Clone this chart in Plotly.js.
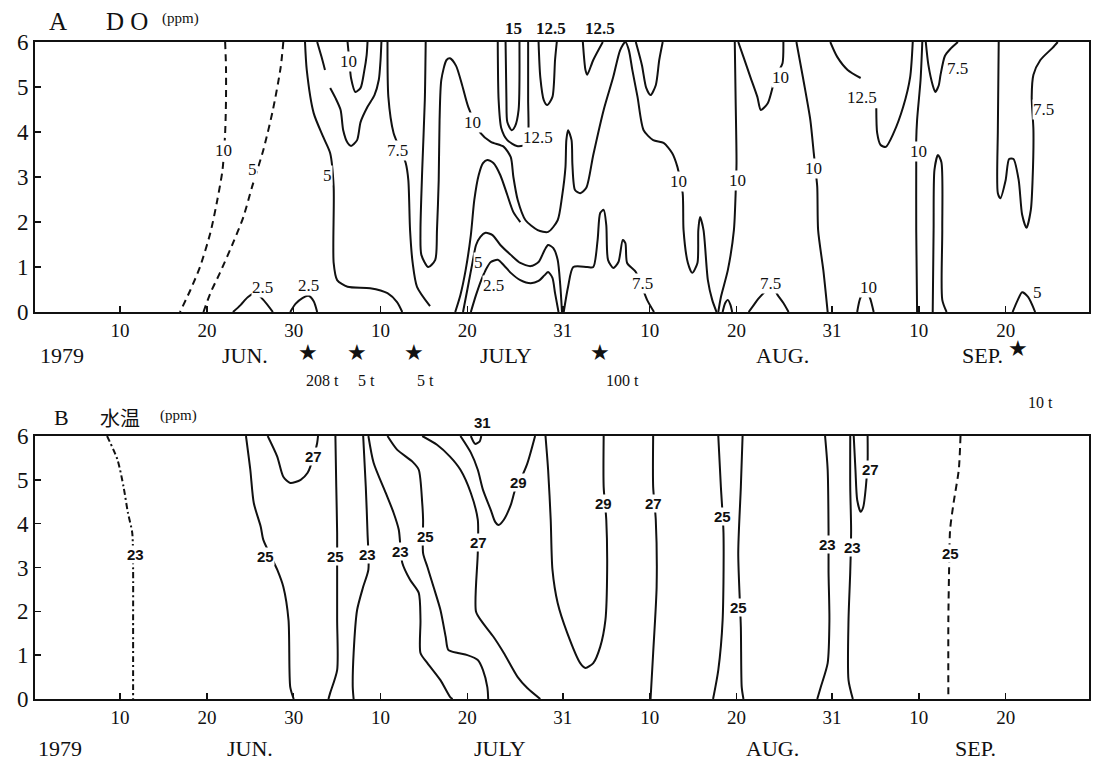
<!DOCTYPE html>
<html><head><meta charset="utf-8">
<script src="https://cdn.plot.ly/plotly-3.0.1.min.js"></script>
<style>body{margin:0;background:#fff}#g{width:1093px;height:767px}</style>
</head><body><div id="g"></div>
<script>
// ---------- axis ticks (days counted from May 31, 1979) ----------
const tickDays = [10,20,30,40,50,61,71,81,92,102,112];
const tickText = ["10","20","30","10","20","31","10","20","31","10","20"];
const depthTicks = [0,1,2,3,4,5,6];

// ---------- Panel A: DO (ppm) contour lines, x = day, y = depth ----------
const a01_day=[22.1,22.2,22.2,22.1,21.8,21.2,20.4,19.2,18.1,16.9], a01_dep=[6,5.44,4.71,3.98,3.16,2.49,1.76,1.0,0.49,0];
const a02_day=[28.8,28.5,27.6,26.5,25.2,24.2,23.0,21.5,20.4,19.6], a02_dep=[6,5.44,4.49,3.6,2.78,2.11,1.53,0.87,0.42,0];
const a03_day=[23.0,23.9,24.7,25.6,26.5,27.6], a03_dep=[0,0.16,0.33,0.42,0.27,0];
const a04_day=[29.6,30.2,31.0,31.7,32.3,32.7], a04_dep=[0,0.18,0.31,0.36,0.24,0];
const a05_day=[31.3,31.5,32.3,33.4,34.2,34.6,34.6,35.0,36.2,38.8,40.8,41.9,42.5], a05_dep=[6,5.38,4.42,3.89,3.53,2.78,1.09,0.71,0.56,0.53,0.42,0.22,0];
const a06_day=[32.7,33.2,33.6], a06_dep=[6,5.67,5.38];
const a07_day=[36.2,36.4,36.6,37.1,37.7,38.1,38.4,38.5], a07_dep=[6,5.6,5.2,4.89,4.98,5.33,5.71,6];
const a08_day=[34.2,34.8,35.4,35.7,36.2,36.6,37.3,37.7,38.5,39.3,39.8,40.0,40.1], a08_dep=[4.98,4.76,4.49,4.04,3.76,3.69,3.82,4.22,4.56,4.82,5.16,5.6,6];
const a09_day=[40.8,40.9,41.5,42.9,43.2,43.4,43.7,44.2,45.7], a09_dep=[6,4.78,3.98,3.31,2.93,1.82,1.09,0.56,0.13];
const a10_day=[45.2,45.1,44.8,44.6,44.7,45.5,46.3,46.5,46.7,46.8,47.0,47.6,48.0,48.7,49.4,50.1,51.5,52.7,54.2,55.0,55.3,55.8,56.7,58.1,59.3,60.4,60.9,61.3,61.4,61.6,62.0,62.1,62.4,63.0,63.7,64.5,65.7,66.8,67.6,68.2,68.6,69.0,69.6,70.3,71.4,72.6,73.6,74.2,74.8,74.9,75.4,75.9,76.5,76.6,76.8,77.2,77.7,78.2,78.7];
const a10_dep=[6,4.71,3.16,1.82,1.27,1.0,1.16,1.82,2.93,4.27,5.16,5.6,5.64,5.47,5.04,4.56,3.98,3.78,3.67,3.44,3.0,2.49,2.04,1.82,1.78,2.04,2.56,3.22,3.82,4.04,3.82,3.27,2.71,2.64,2.76,3.49,4.49,5.22,5.82,6,5.82,5.38,4.78,4.04,3.82,3.76,3.53,3.22,2.64,1.82,1.09,0.87,1.09,1.82,2.11,1.82,0.71,0.27,0];
const a11_day=[78.9,79.2,80.0,80.7,80.9,81.0,80.9,80.8], a11_dep=[0,0.33,0.93,1.82,2.64,3.31,4.71,6];
const a12_day=[54.4,54.5,54.6,55.1,55.5,55.9,56.0], a12_dep=[6,4.71,4.22,4.04,4.13,4.49,6];
const a13_day=[53.5,53.6,53.9,54.6,55.7,56.6,57.0,57.0,57.0], a13_dep=[6,4.71,4.09,3.82,3.69,3.71,3.93,4.71,6];
const a14_day=[58.2,58.4,58.8,59.2,59.8,60.1,60.3], a14_dep=[6,5.22,4.71,4.6,4.78,5.6,6];
const a15_day=[63.3,63.6,63.8,64.5,65.6], a15_dep=[6,5.38,5.27,5.6,6];
const a16_day=[48.6,49.2,49.8,50.4,50.8,51.3,51.8,52.3,53.0,53.8,54.6,55.3,56.1], a16_dep=[0,0.38,0.93,1.71,2.49,3.04,3.31,3.38,3.31,3.04,2.6,2.22,2.0];
const a17_day=[49.5,50.1,50.6,51.0,51.5,52.1,52.9,53.8,55.0,56.1,57.3,58.2,58.9,59.3,59.9,60.4,60.7,60.9], a17_dep=[0,0.6,1.11,1.49,1.67,1.76,1.71,1.49,1.27,1.09,1.02,1.11,1.38,1.49,1.42,1.16,0.6,0];
const a18_day=[50.4,51.0,51.6,52.1,52.7,53.5,54.2,55.0,56.1,57.3,58.2,58.9,59.3,59.8,60.1,60.5], a18_dep=[0,0.38,0.71,0.93,1.11,1.16,1.04,0.87,0.71,0.64,0.69,0.82,0.89,0.76,0.42,0];
const a19_day=[61.1,61.6,62.2,63.8,64.5,65.0,65.3,65.7,66.0,66.2,66.8,67.4,67.9,68.2,68.4,69.4,70.7,71.5], a19_dep=[0,0.56,1.0,1.0,1.0,1.6,2.2,2.27,1.93,1.16,0.98,1.11,1.6,1.53,1.09,0.89,0.27,0];
const a20_day=[69.4,70.1,70.6,71.1,71.7,72.1,72.5], a20_dep=[6,5.49,4.98,4.82,5.04,5.6,6];
const a21_day=[79.4,79.7,80.0,80.3,80.5], a21_dep=[0,0.2,0.27,0.16,0];
const a22_day=[82.4,83.0,83.5,84.5,85.1,85.8,86.4,87.0], a22_dep=[0,0.16,0.29,0.49,0.56,0.36,0.2,0];
const a23_day=[81.2,81.8,82.6,83.4,83.8,84.6,85.3,85.8,86.3,86.4], a23_dep=[6,5.67,5.22,4.78,4.49,4.64,5.09,5.33,5.53,6];
const a24_day=[87.9,88.7,89.5,89.9,90.1,90.3,90.4,91.0,91.5], a24_dep=[6,5.16,4.27,3.53,3.16,2.78,1.82,0.93,0];
const a25_day=[94.9,95.3,96.0,96.4,96.8], a25_dep=[0,0.33,0.45,0.3,0];
const a26_day=[91.8,92.6,93.8,95.3], a26_dep=[6,5.67,5.38,5.2];
const a27_day=[97.1,97.2,97.6,98.2,99.1,100.2,101.0,101.3], a27_dep=[4.53,3.98,3.71,3.67,3.98,4.56,5.22,6];
const a28_day=[102.4,102.2,101.8,101.7,101.7,101.7,101.8], a28_dep=[6,5.16,4.27,3.82,3.27,1.82,0];
const a29_day=[103.6,103.7,103.8,104.2,104.6,104.7,104.7,105.2], a29_dep=[0,1.82,3.16,3.49,3.33,1.82,0.27,0];
const a30_day=[102.8,103.1,103.6,103.9,104.3,104.5,105.0,105.6,106.5], a30_dep=[6,5.49,5.04,4.89,5.04,5.27,5.69,5.84,6];
const a31_day=[111.2,111.1,111.1,111.4,112.0,112.4,112.9,113.5,113.9,114.4,114.9,115.1,115.2,115.0,115.2,116.0,117.4,118.0], a31_dep=[6,4.04,2.64,2.53,2.93,3.4,3.4,2.93,2.16,1.87,2.27,2.93,4.04,4.78,5.27,5.6,5.87,6];
const a32_day=[112.8,113.4,113.9,114.6,115.4], a32_dep=[0,0.27,0.44,0.33,0];

const aLabelText=["10","5","2.5","2.5","5","10","7.5","10","10","10","12.5","5","2.5","7.5","7.5","10","10","10","12.5","10","7.5","7.5","5"];
const aLabelDay =[21.9,25.3,26.4,31.7,33.9,36.3,41.9,50.6,74.3,81.1,58.1,51.3,53.0,70.2,84.9,86.1,89.9,96.2,95.5,102.0,106.5,116.4,115.7];
const aLabelDep =[3.6,3.16,0.55,0.58,3.04,5.56,3.6,4.22,2.89,2.93,3.87,1.11,0.6,0.64,0.64,5.22,3.2,0.55,4.76,3.56,5.42,4.49,0.44];
const aTopText=["15","12.5","12.5"], aTopDay=[55.3,59.6,65.3];

// ---------- Panel B: water temperature contour lines ----------
const b01_day=[8.5,9.7,10.4,10.9,11.4,11.5,11.5,11.5], b01_dep=[6,5.46,4.84,4.25,3.79,2.95,1.8,0];
const b02_day=[24.5,25.0,25.4,26.2,26.5,28.1,28.8,29.4,29.6,30.0], b02_dep=[6,5.23,4.47,3.93,3.63,2.95,2.56,1.8,0.27,0];
const b03_day=[27.0,28.1,28.8,29.6,30.8,31.6,32.3,32.7,32.8], b03_dep=[6,5.53,5.07,4.93,5.0,5.16,5.53,5.84,6];
const b04_day=[34.8,34.9,35.0,35.0,35.0,35.0,34.2,34.0], b04_dep=[6,4.84,3.79,2.95,1.8,0.66,0.14,0];
const b05_day=[38.0,38.3,38.5,38.6,38.0,37.3,36.9,36.8,36.9], b05_dep=[6,4.84,3.79,2.95,2.56,2.03,1.05,0.27,0];
const b06_day=[38.6,39.2,40.6,41.5,42.1,42.5,43.4,44.4,44.6,44.6,45.4,46.9,48.0,48.3], b06_dep=[6,5.39,4.7,4.25,3.86,3.11,2.72,2.42,1.8,1.05,0.82,0.43,0.05,0];
const b07_day=[40.8,41.9,43.7,44.4,44.8,44.9,44.9,45.4,46.1,46.9,47.5,47.8,48.9,50.0,51.2,51.8,52.3,52.4], b07_dep=[6,5.69,5.41,5.23,4.47,4.09,3.33,3.01,2.56,2.03,1.42,1.12,1.05,1.0,0.89,0.66,0.27,0];
const b08_day=[44.8,46.5,48.0,49.2,50.4,51.2,51.2,51.0,51.8,53.0,54.2,55.8,56.9,58.4], b08_dep=[6,5.8,5.53,5.23,4.7,4.09,3.33,1.99,1.73,1.42,1.05,0.5,0.25,0];
const b09_day=[50.4,50.7,50.9,51.4,51.6], b09_dep=[6,5.87,5.82,5.87,6];
const b10_day=[49.2,50.4,51.2,51.8,52.7,53.2,53.6,54.2,55.0,55.5,56.1,56.9,57.8], b10_dep=[6,5.62,5.23,4.77,4.31,4.04,3.97,4.09,4.43,4.77,5.0,5.37,6];
const b11_day=[59.0,59.3,59.6,59.8,60.4,61.5,63.0,63.6,64.5,65.3,65.9,66.1,66.0,65.7,65.7], b11_dep=[6,5.23,4.09,2.95,2.19,1.51,0.82,0.71,0.82,1.19,1.8,2.95,4.09,4.84,6];
const b12_day=[71.4,71.4,71.7,71.8,71.4,71.1], b12_dep=[6,4.84,4.09,2.56,1.05,0];
const b13_day=[78.9,79.2,79.5,79.4,78.9,78.3], b13_dep=[6,4.84,3.79,1.8,0.66,0];
const b14_day=[81.7,81.5,81.2,81.5,81.6,81.8], b14_dep=[6,4.84,3.33,1.64,0.27,0];
const b15_day=[91.2,91.5,91.6,91.6,91.7,91.5,90.7,90.3], b15_dep=[6,5.23,3.86,2.9,1.8,0.82,0.27,0];
const b16_day=[94.1,94.1,94.2,94.1,93.9,93.9,94.4], b16_dep=[6,4.84,3.86,2.9,1.8,0.43,0];
const b17_day=[94.5,94.7,94.9,95.3,95.6,95.9,96.1,96.1], b17_dep=[6,5.23,4.54,4.27,4.38,4.84,5.4,6];
const b18_day=[106.8,106.6,106.0,105.6,105.5,105.4,105.4], b18_dep=[6,5.23,4.47,3.86,3.1,1.8,0];

const bLabelText=["23","25","27","25","23","23","25","27","29","29","27","25","25","23","23","27","25"];
const bLabelDay =[11.8,26.7,32.3,34.8,38.5,42.3,45.2,51.3,55.9,65.7,71.4,79.4,81.2,91.5,94.4,96.4,105.6];
const bLabelDep =[3.29,3.24,5.53,3.24,3.29,3.36,3.7,3.56,4.93,4.47,4.47,4.16,2.08,3.52,3.45,5.23,3.33];
const bTopText=["31"], bTopDay=[51.8];

// ---------- calendar texts ----------
const monthText=["1979","JUN.","JULY","AUG.","SEP."];
const monthDayA=[3.3,24.4,54.4,86.3,109.3];
const monthDayB=[3.1,25.0,53.8,85.1,108.5];
const dumpDay=[31.7,37.3,43.8,65.3,113.4];
const dumpText=["208 t","5 t","5 t","100 t","10 t"];
const dumpTextDay=[33.3,38.4,45.2,67.9,116.0];

// ---------- build ----------
const K='#111';
function ln(x,y,ax,dash){return {type:'scatter',mode:'lines',x:x,y:y,xaxis:ax==='A'?'x':'x2',yaxis:ax==='A'?'y':'y2',
  line:{color:K,width:2,shape:'spline',smoothing:0.7,dash:dash||'solid'},hoverinfo:'skip'};}
const DASH='7px,5px', DASHDOT='6px,3px,2px,3px';
const traces=[
 ln(a01_day,a01_dep,'A',DASH),ln(a02_day,a02_dep,'A',DASH),
 ln(a03_day,a03_dep,'A'),ln(a04_day,a04_dep,'A'),ln(a05_day,a05_dep,'A'),ln(a06_day,a06_dep,'A'),
 ln(a07_day,a07_dep,'A'),ln(a08_day,a08_dep,'A'),ln(a09_day,a09_dep,'A'),ln(a10_day,a10_dep,'A'),
 ln(a11_day,a11_dep,'A'),ln(a12_day,a12_dep,'A'),ln(a13_day,a13_dep,'A'),ln(a14_day,a14_dep,'A'),
 ln(a15_day,a15_dep,'A'),ln(a16_day,a16_dep,'A'),ln(a17_day,a17_dep,'A'),ln(a18_day,a18_dep,'A'),
 ln(a19_day,a19_dep,'A'),ln(a20_day,a20_dep,'A'),ln(a21_day,a21_dep,'A'),ln(a22_day,a22_dep,'A'),
 ln(a23_day,a23_dep,'A'),ln(a24_day,a24_dep,'A'),ln(a25_day,a25_dep,'A'),ln(a26_day,a26_dep,'A'),
 ln(a27_day,a27_dep,'A'),ln(a28_day,a28_dep,'A'),ln(a29_day,a29_dep,'A'),ln(a30_day,a30_dep,'A'),
 ln(a31_day,a31_dep,'A'),ln(a32_day,a32_dep,'A'),
 ln(b01_day,b01_dep,'B',DASHDOT),ln(b02_day,b02_dep,'B'),ln(b03_day,b03_dep,'B'),ln(b04_day,b04_dep,'B'),
 ln(b05_day,b05_dep,'B'),ln(b06_day,b06_dep,'B'),ln(b07_day,b07_dep,'B'),ln(b08_day,b08_dep,'B'),
 ln(b09_day,b09_dep,'B'),ln(b10_day,b10_dep,'B'),ln(b11_day,b11_dep,'B'),ln(b12_day,b12_dep,'B'),
 ln(b13_day,b13_dep,'B'),ln(b14_day,b14_dep,'B'),ln(b15_day,b15_dep,'B'),ln(b16_day,b16_dep,'B'),
 ln(b17_day,b17_dep,'B'),ln(b18_day,b18_dep,'B',DASH)
];

const serif='"Liberation Serif","DejaVu Serif",serif';
const ann=[];
// inside labels: data coordinates; outside labels: axis-domain coordinates (depth/6)
function lab(t,x,y,ax,font,bg,outside){
  const yr=ax==='A'?'y':'y2';
  ann.push({text:t,x:x,y:outside?y/6:y,xref:ax==='A'?'x':'x2',yref:outside?yr+' domain':yr,showarrow:false,
  font:font,bgcolor:bg||'rgba(0,0,0,0)',borderpad:0,xanchor:'center',yanchor:'middle'});}
const fA={family:serif,size:17,color:K};
const fB={family:'"Liberation Sans",Arial,sans-serif',size:15,color:K,weight:'bold'};
aLabelText.forEach((t,i)=>lab(t,aLabelDay[i],aLabelDep[i],'A',fA,'white'));
aTopText.forEach((t,i)=>lab(t,aTopDay[i],6.31,'A',{family:serif,size:17,color:K,weight:'bold'},null,true));
bLabelText.forEach((t,i)=>lab(t,bLabelDay[i],bLabelDep[i],'B',fB,'white'));
bTopText.forEach((t,i)=>lab(t,bTopDay[i],6.3,'B',fB,null,true));
const fM={family:serif,size:22,color:K};
monthText.forEach((t,i)=>{lab(t,monthDayA[i],-0.97,'A',fM,null,true);lab(t,monthDayB[i],-1.12,'B',fM,null,true);});
dumpDay.forEach((d,i)=>lab('★',d,i===4?-0.8:-0.9,'A',{family:'DejaVu Sans',size:22,color:K},null,true));
dumpText.forEach((t,i)=>lab(t,dumpTextDay[i],i===4?-2.0:-1.52,'A',{family:serif,size:16,color:K},null,true));
// panel titles
lab('A',2.9,6.45,'A',{family:serif,size:25,color:K},null,true);
lab('D O',10.8,6.45,'A',{family:serif,size:25,color:K},null,true);
lab('(ppm)',17.0,6.52,'A',{family:serif,size:15,color:K},null,true);
lab('B',3.3,6.42,'B',{family:serif,size:22,color:K},null,true);
lab('水温',10.0,6.42,'B',{family:'"Noto Sans CJK JP",sans-serif',size:20,color:K},null,true);
lab('(ppm)',16.7,6.47,'B',{family:serif,size:15,color:K},null,true);

function xa(anchor){return {anchor:anchor,domain:[0,1],range:[0.2,121.6],tickvals:tickDays,ticktext:tickText,ticks:'inside',ticklen:6,
  tickcolor:K,tickwidth:1.5,showline:true,mirror:true,linecolor:K,linewidth:1.8,showgrid:false,zeroline:false,
  tickfont:{family:serif,size:19,color:K}};}
function ya(anchor,dom){return {anchor:anchor,domain:dom,range:[0,6],tickvals:depthTicks,ticks:'inside',ticklen:6,tickcolor:K,tickwidth:1.5,
  showline:true,mirror:true,linecolor:K,linewidth:1.8,showgrid:false,zeroline:false,tickfont:{family:serif,size:23,color:K}};}
const layout={width:1093,height:767,margin:{l:35,r:4,t:42,b:68},paper_bgcolor:'white',plot_bgcolor:'white',showlegend:false,
  xaxis:xa('y'),yaxis:ya('x',[0.589,1]),xaxis2:xa('y2'),yaxis2:ya('x2',[0,0.4003]),annotations:ann};
Plotly.newPlot('g',traces,layout,{staticPlot:true});
</script></body></html>
